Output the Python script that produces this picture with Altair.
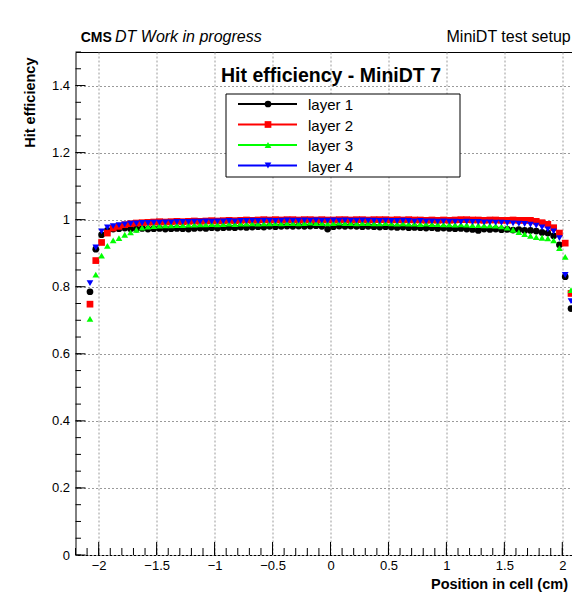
import altair as alt
import pandas as pd

FONT = "Liberation Sans"

# histogram bin centres (bin width 0.05 cm)
bin_centers = [round(-2.075 + 0.05 * i, 3) for i in range(84)]

layer1 = [0.785, 0.912, 0.955, 0.968, 0.972, 0.973, 0.975, 0.973, 0.972, 0.974,
          0.972, 0.973, 0.974, 0.972, 0.973, 0.974, 0.973, 0.972, 0.974, 0.975,
          0.974, 0.976, 0.975, 0.976, 0.977, 0.976, 0.978, 0.977, 0.978, 0.979,
          0.978, 0.980, 0.979, 0.980, 0.981, 0.980, 0.981, 0.980, 0.981, 0.982,
          0.980, 0.972, 0.979, 0.981, 0.980, 0.981, 0.980, 0.979, 0.980, 0.979,
          0.978, 0.979, 0.978, 0.977, 0.978, 0.976, 0.977, 0.976, 0.975, 0.976,
          0.974, 0.975, 0.974, 0.973, 0.974, 0.972, 0.971, 0.968, 0.972, 0.971,
          0.972, 0.970, 0.971, 0.969, 0.970, 0.968, 0.968, 0.966, 0.962, 0.960,
          0.952, 0.925, 0.830, 0.735]

layer2 = [0.748, 0.878, 0.932, 0.960, 0.975, 0.980, 0.985, 0.988, 0.990, 0.991,
          0.992, 0.993, 0.994, 0.993, 0.994, 0.995, 0.994, 0.995, 0.996, 0.995,
          0.996, 0.997, 0.996, 0.997, 0.998, 0.997, 0.998, 0.999, 0.998, 0.999,
          1.000, 0.999, 1.000, 0.999, 1.000, 1.000, 0.999, 1.000, 1.000, 0.999,
          1.000, 0.999, 0.999, 1.000, 1.000, 0.999, 1.000, 1.000, 0.999, 1.000,
          1.000, 1.000, 0.999, 1.000, 0.999, 1.000, 0.999, 0.999, 0.998, 0.999,
          0.998, 0.999, 0.998, 0.999, 1.000, 1.000, 0.999, 0.999, 0.998, 0.999,
          0.999, 0.998, 0.998, 0.999, 0.998, 0.998, 0.998, 0.995, 0.991, 0.986,
          0.976, 0.960, 0.930, 0.780]

layer3 = [0.704, 0.836, 0.893, 0.922, 0.938, 0.945, 0.955, 0.962, 0.970, 0.976,
          0.979, 0.981, 0.982, 0.983, 0.983, 0.984, 0.984, 0.985, 0.985, 0.986,
          0.986, 0.987, 0.986, 0.987, 0.988, 0.987, 0.988, 0.988, 0.989, 0.988,
          0.989, 0.989, 0.990, 0.989, 0.990, 0.990, 0.989, 0.990, 0.991, 0.990,
          0.990, 0.989, 0.990, 0.991, 0.990, 0.990, 0.989, 0.990, 0.990, 0.989,
          0.989, 0.990, 0.989, 0.988, 0.989, 0.988, 0.988, 0.987, 0.988, 0.987,
          0.987, 0.986, 0.986, 0.985, 0.986, 0.985, 0.984, 0.984, 0.983, 0.983,
          0.982, 0.980, 0.976, 0.970, 0.963, 0.957, 0.952, 0.948, 0.946, 0.944,
          0.938, 0.915, 0.889, 0.790]

layer4 = [0.811, 0.917, 0.965, 0.977, 0.981, 0.984, 0.986, 0.988, 0.989, 0.990,
          0.990, 0.991, 0.991, 0.992, 0.992, 0.993, 0.993, 0.993, 0.994, 0.994,
          0.995, 0.994, 0.995, 0.995, 0.996, 0.995, 0.996, 0.996, 0.997, 0.996,
          0.997, 0.997, 0.996, 0.997, 0.998, 0.997, 0.997, 0.998, 0.997, 0.998,
          0.997, 0.997, 0.998, 0.997, 0.998, 0.997, 0.997, 0.998, 0.997, 0.997,
          0.996, 0.997, 0.996, 0.996, 0.997, 0.996, 0.995, 0.996, 0.995, 0.995,
          0.994, 0.995, 0.994, 0.994, 0.993, 0.994, 0.993, 0.993, 0.992, 0.992,
          0.991, 0.991, 0.990, 0.989, 0.988, 0.987, 0.985, 0.982, 0.977, 0.971,
          0.965, 0.945, 0.835, 0.757, 1.000]
layer4_x = bin_centers + [2.125]

names = ["layer 1", "layer 2", "layer 3", "layer 4"]
colors = ["#000000", "#ff0000", "#00ff00", "#0000ff"]
shapes = ["circle", "square", "triangle-up", "triangle-down"]

x_major = [-2, -1.5, -1, -0.5, 0, 0.5, 1, 1.5, 2]
y_major = [0, 0.2, 0.4, 0.6, 0.8, 1, 1.2, 1.4]
x_minor = [round(-2.2 + 0.1 * i, 2) for i in range(45)]
y_minor = [round(0.05 * i, 2) for i in range(31)]

rows = []
for name, vals, xs in [(names[0], layer1, bin_centers), (names[1], layer2, bin_centers),
                       (names[2], layer3, bin_centers), (names[3], layer4, layer4_x)]:
    for xv, yv in zip(xs, vals):
        rows.append({"pos": xv, "eff": yv, "layer": name})
df = pd.DataFrame(rows)

W, H = 510, 503
xscale = alt.Scale(domain=[-2.2, 2.2], nice=False, zero=False)
yscale = alt.Scale(domain=[0, 1.5], nice=False, zero=False)

xaxis = alt.Axis(values=x_major, grid=True, gridColor="#9a9a9a", gridDash=[2, 2],
                 ticks=False, domain=False, labelFontSize=13, labelColor="#000",
                 labelPadding=4, labelFlush=False, labelOverlap=False,
                 labelExpr="datum.value < 0 ? '\u2212' + format(-datum.value, '') : format(datum.value, '')",
                 title="Position in cell (cm)", titleFontSize=14.5, titleFontWeight="bold",
                 titleColor="#000", titleX=355, titleY=33.5, titleAlign="left",
                 titleBaseline="alphabetic")
yaxis = alt.Axis(values=y_major, grid=True, gridColor="#9a9a9a", gridDash=[2, 2],
                 ticks=False, domain=False, labelFontSize=13, labelColor="#000",
                 labelPadding=6, labelFlush=False, labelOverlap=False,
                 labelExpr="format(datum.value, '')",
                 title="Hit efficiency", titleFontSize=14.5, titleFontWeight="bold",
                 titleColor="#000", titleX=-45.5, titleY=5, titleAngle=270,
                 titleAlign="right", titleBaseline="middle")

points = alt.Chart(df).mark_point(filled=True, opacity=1, size=45, strokeWidth=0).encode(
    x=alt.X("pos:Q", scale=xscale, axis=xaxis),
    y=alt.Y("eff:Q", scale=yscale, axis=yaxis),
    color=alt.Color("layer:N", scale=alt.Scale(domain=names, range=colors), legend=None),
    shape=alt.Shape("layer:N", scale=alt.Scale(domain=names, range=shapes), legend=None),
)

ytm = alt.Chart(pd.DataFrame({"v": y_major})).mark_rule(color="black", strokeWidth=1).encode(
    y=alt.Y("v:Q", scale=yscale, axis=yaxis), x=alt.value(0), x2=alt.value(10))
ytn = alt.Chart(pd.DataFrame({"v": y_minor})).mark_rule(color="black", strokeWidth=1).encode(
    y=alt.Y("v:Q", scale=yscale, axis=yaxis), x=alt.value(0), x2=alt.value(5.5))
xtm = alt.Chart(pd.DataFrame({"v": x_major})).mark_rule(color="black", strokeWidth=1).encode(
    x=alt.X("v:Q", scale=xscale, axis=xaxis), y=alt.value(H), y2=alt.value(H - 13))
xtn = alt.Chart(pd.DataFrame({"v": x_minor})).mark_rule(color="black", strokeWidth=1).encode(
    x=alt.X("v:Q", scale=xscale, axis=xaxis), y=alt.value(H), y2=alt.value(H - 7))

one = pd.DataFrame({"a": [0]})

def txt(s, x, y, size, weight="normal", style="normal", align="left"):
    return alt.Chart(one).mark_text(font=FONT, fontSize=size, fontWeight=weight,
                                    fontStyle=style, align=align, baseline="alphabetic",
                                    color="#000").encode(
        x=alt.value(x), y=alt.value(y), text=alt.value(s))

annos = [
    txt("CMS", 5.2, -10.3, 14, weight="bold"),
    txt("DT Work in progress", 39.5, -10.3, 16, style="italic"),
    txt("MiniDT test setup", 371, -10.3, 16),
    txt("Hit efficiency - MiniDT 7", 255.5, 30, 19.5, weight="bold", align="center"),
]

legend_box = alt.Chart(one).mark_rect(fill="white", stroke="black", strokeWidth=1).encode(
    x=alt.value(150.5), x2=alt.value(384.5), y=alt.value(42), y2=alt.value(125))
legend_layers = [legend_box]
ys = [52, 72.5, 93, 113.5]
for name, col, shp, yc in zip(names, colors, shapes, ys):
    legend_layers.append(alt.Chart(one).mark_rule(color=col, strokeWidth=2).encode(
        x=alt.value(162.5), x2=alt.value(221.5), y=alt.value(yc)))
    legend_layers.append(alt.Chart(one).mark_point(filled=True, opacity=1, size=45,
                                                   strokeWidth=0, color=col, shape=shp).encode(
        x=alt.value(192.5), y=alt.value(yc)))
    legend_layers.append(alt.Chart(one).mark_text(font=FONT, fontSize=15, align="left",
                                                  baseline="middle", color="#000").encode(
        x=alt.value(232.5), y=alt.value(yc + 1), text=alt.value(name)))

chart = alt.layer(points, ytm, ytn, xtm, xtn, *annos, *legend_layers).properties(
    width=W, height=H,
    autosize=alt.AutoSizeParams(type="none"),
    padding={"left": 67.5, "top": 44, "right": -13.5, "bottom": 37},
    background="white",
).configure_view(stroke="black", strokeWidth=1).configure_axis(
    labelFont=FONT, titleFont=FONT)

chart.save("out.html", embed_options={"renderer": "svg", "actions": False})
